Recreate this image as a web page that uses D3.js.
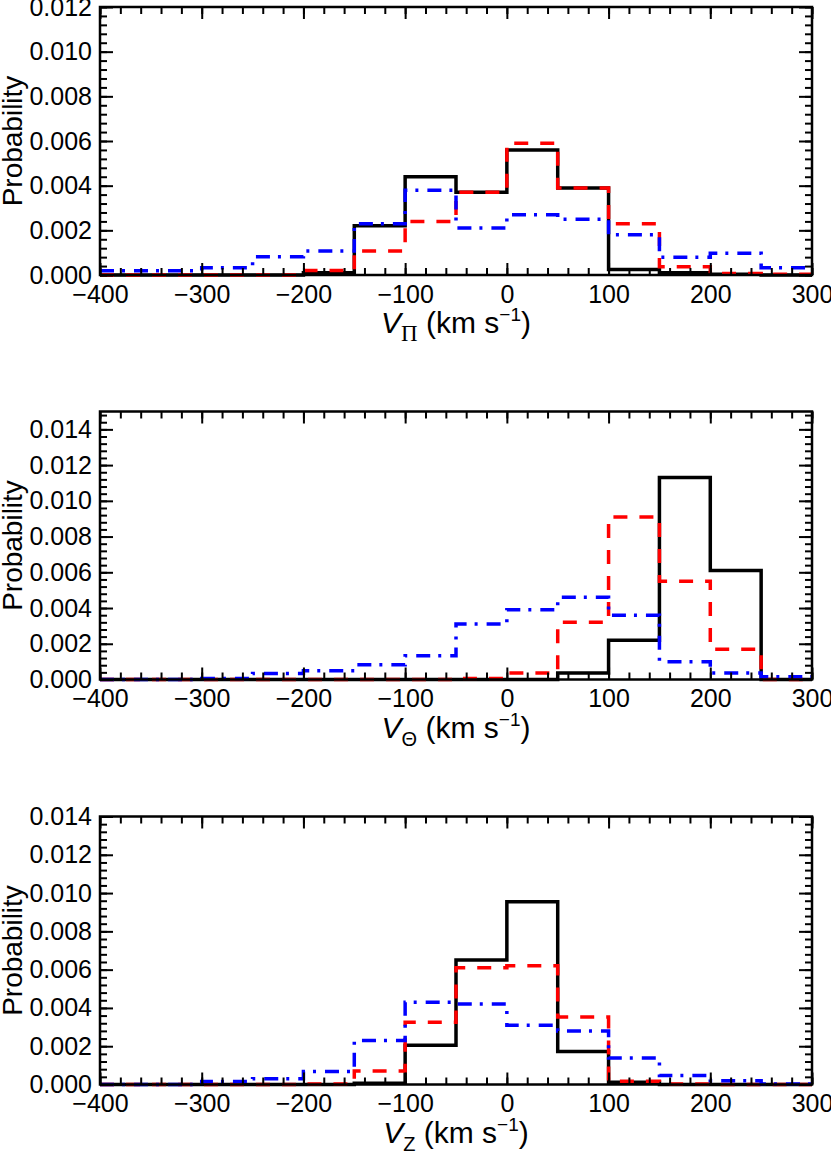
<!DOCTYPE html>
<html>
<head>
<meta charset="utf-8">
<script src="https://cdn.jsdelivr.net/npm/d3@7"></script>
<style>
body { margin: 0; background: #fff; }
text { font-family: "Liberation Sans", Arial, Helvetica, sans-serif; }
</style>
</head>
<body>
<svg id="canvas" width="831" height="1152"></svg>
<script>
/************* Data **************/
// bin edges (km/s), 14 bins of 50
var binEdges = [-400, -350, -300, -250, -200, -150, -100, -50, 0, 50, 100, 150, 200, 250, 300];
var xTickValues = [-400, -300, -200, -100, 0, 100, 200, 300];

// V_Pi
var vpiBlack = [0, 0, 0, 0, 0.0001, 0.0022, 0.0044, 0.0037, 0.0056, 0.0039, 0.00025, 0.0001, 0.00003, 0];
var vpiRed   = [0, 0, 0, 0, 0.0002, 0.00107, 0.0024, 0.0037, 0.0059, 0.0039, 0.0023, 0.00037, 0.00007, 0.00003];
var vpiBlue  = [0.00019, 0.00019, 0.00033, 0.00082, 0.00107, 0.0023, 0.0038, 0.0021, 0.0027, 0.0025, 0.0018, 0.00079, 0.00097, 0.00033];

// V_Theta
var vthBlack = [0, 0, 0, 0, 0, 0, 0, 0, 0, 0.00037, 0.0022, 0.0113, 0.0061, 0];
var vthRed   = [0, 0, 0, 0, 0, 0, 0, 0.00006, 0.00037, 0.0032, 0.0091, 0.0055, 0.0017, 0];
var vthBlue  = [0, 0, 0.00006, 0.00034, 0.00049, 0.00082, 0.00133, 0.0031, 0.0039, 0.0046, 0.0036, 0.001, 0.00037, 0.00015];

// V_Z
var vzBlack = [0, 0, 0, 0, 0, 0.00007, 0.00205, 0.0065, 0.00955, 0.00173, 0.00012, 0, 0, 0];
var vzRed   = [0, 0, 0, 0, 0.00003, 0.0007, 0.00325, 0.0061, 0.0062, 0.00353, 0.00017, 0.00003, 0, 0];
var vzBlue  = [0, 0, 0.00016, 0.0003, 0.00068, 0.0023, 0.0043, 0.0042, 0.0031, 0.0028, 0.00138, 0.00047, 0.0002, 0.00003];

var yMaxes = [0.012, 0.015, 0.014];
var yTickValues = [
    [0, 0.002, 0.004, 0.006, 0.008, 0.010, 0.012],
    [0, 0.002, 0.004, 0.006, 0.008, 0.010, 0.012, 0.014],
    [0, 0.002, 0.004, 0.006, 0.008, 0.010, 0.012, 0.014]
];
var subscripts = ["\u03A0", "\u0398", "Z"];


/********** Initialisation *********/
var svg = d3.select("#canvas");

var left = 100, right = 812;
var panelTops = [7, 411.5, 816.5];
var panelH = 268;

var x = d3.scaleLinear().domain([-400, 300]).range([left, right]);

var styles = [
    {color: "#000", dash: null},
    {color: "#ff0000", dash: "14,12"},
    {color: "#0000ff", dash: "14,8,3,9"}
];

var panels = [
    {series: [vpiBlack, vpiRed, vpiBlue], subFont: "'Liberation Serif', 'Times New Roman', serif"},
    {series: [vthBlack, vthRed, vthBlue], subFont: null},
    {series: [vzBlack, vzRed, vzBlue], subFont: null}
];

var xMinor = d3.range(-400, 301, 20);

panels.forEach(function(p, i) {
    var top = panelTops[i];
    var bottom = top + panelH;
    var y = d3.scaleLinear().domain([0, yMaxes[i]]).range([bottom, top]);
    var yMinor = d3.range(0, yMaxes[i] + 1e-9, 0.0004);

    var g = svg.append("g");

    // histograms
    var line = d3.line()
        .x(function(d) { return x(d[0]); })
        .y(function(d) { return y(d[1]); })
        .curve(d3.curveStepAfter);

    p.series.forEach(function(vals, k) {
        var pts = vals.map(function(v, j) { return [binEdges[j], v]; });
        pts.push([binEdges[vals.length], vals[vals.length - 1]]);
        g.append("path")
            .attr("d", line(pts))
            .attr("fill", "none")
            .attr("stroke", styles[k].color)
            .attr("stroke-width", 3.5)
            .attr("stroke-dasharray", styles[k].dash);
    });

    // axes, ticks pointing inward on all four sides
    function addAxis(axis, tx, ty, cls) {
        var a = g.append("g")
            .attr("class", cls)
            .attr("transform", "translate(" + tx + "," + ty + ")")
            .call(axis);
        a.select(".domain").remove();
        a.selectAll("line").attr("stroke", "#000").attr("stroke-width", 2);
        return a;
    }

    var xb = addAxis(d3.axisBottom(x).tickValues(xTickValues).tickSizeInner(-12).tickSizeOuter(0)
        .tickPadding(10).tickFormat(d3.format("d")), 0, bottom, "xaxis");
    xb.selectAll("text").attr("font-size", 25).attr("fill", "#000");
    addAxis(d3.axisBottom(x).tickValues(xMinor).tickSizeInner(-7).tickSizeOuter(0).tickFormat(""), 0, bottom, "xminor");
    addAxis(d3.axisTop(x).tickValues(xTickValues).tickSizeInner(-12).tickSizeOuter(0).tickFormat(""), 0, top, "xtop");
    addAxis(d3.axisTop(x).tickValues(xMinor).tickSizeInner(-7).tickSizeOuter(0).tickFormat(""), 0, top, "xtopminor");

    var yl = addAxis(d3.axisLeft(y).tickValues(yTickValues[i]).tickSizeInner(-13).tickSizeOuter(0)
        .tickPadding(8).tickFormat(d3.format(".3f")), left, 0, "yaxis");
    yl.selectAll("text").attr("font-size", 25).attr("fill", "#000");
    addAxis(d3.axisLeft(y).tickValues(yMinor).tickSizeInner(-7).tickSizeOuter(0).tickFormat(""), left, 0, "yminor");
    addAxis(d3.axisRight(y).tickValues(yTickValues[i]).tickSizeInner(-13).tickSizeOuter(0).tickFormat(""), right, 0, "yright");
    addAxis(d3.axisRight(y).tickValues(yMinor).tickSizeInner(-7).tickSizeOuter(0).tickFormat(""), right, 0, "yrightminor");

    // frame
    g.append("rect")
        .attr("x", left).attr("y", top)
        .attr("width", right - left).attr("height", panelH)
        .attr("fill", "none").attr("stroke", "#000").attr("stroke-width", 2.5);

    // y title
    g.append("text")
        .attr("transform", "translate(22," + (top + panelH / 2) + ") rotate(-90)")
        .attr("text-anchor", "middle")
        .attr("font-size", 28)
        .text("Probability");

    // x title
    var t = g.append("text")
        .attr("x", (left + right) / 2)
        .attr("y", bottom + 58)
        .attr("text-anchor", "middle")
        .attr("font-size", 30);
    t.append("tspan").attr("font-style", "italic").text("V");
    var sub = t.append("tspan").attr("font-size", 20).attr("dy", 8).text(subscripts[i]);
    if (p.subFont) sub.style("font-family", p.subFont).attr("font-size", 23);
    t.append("tspan").attr("dy", -8).text(" (km s");
    t.append("tspan").attr("font-size", 19).attr("dy", -12).text("\u22121");
    t.append("tspan").attr("dy", 12).text(")");
});
</script>
</body>
</html>
